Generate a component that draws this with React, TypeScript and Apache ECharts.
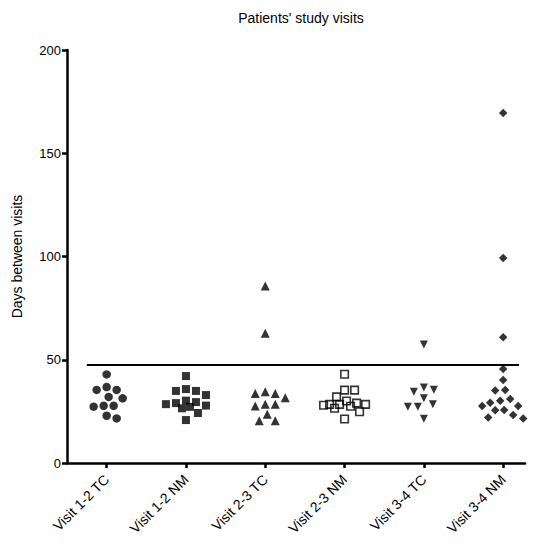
import React, { useEffect, useRef } from "react";
import * as echarts from "echarts";

const categories = [
  "Visit 1-2 TC",
  "Visit 1-2 NM",
  "Visit 2-3 TC",
  "Visit 2-3 NM",
  "Visit 3-4 TC",
  "Visit 3-4 NM",
];
const visit12TC = [42.9, 36.8, 35.4, 35.4, 32.0, 31.3, 27.7, 27.7, 27.3, 22.9, 21.6];
const visit12NM = [42.1, 35.8, 34.9, 34.9, 32.9, 30.2, 29.5, 29.0, 28.5, 27.8, 27.2, 26.5, 24.2, 20.8];
const visit23TC = [85.7, 62.8, 34.5, 33.7, 33.7, 31.6, 28.4, 28.4, 27.6, 23.6, 20.5, 20.5];
const visit23NM = [43.0, 35.3, 35.3, 32.0, 30.0, 29.0, 28.4, 28.4, 28.0, 28.4, 27.5, 26.5, 24.8, 21.3];
const visit34TC = [57.4, 36.6, 35.5, 34.5, 31.3, 28.5, 27.3, 27.3, 21.4];
const visit34NM = [169.5, 99.3, 60.9, 45.5, 40.2, 35.4, 35.1, 31.0, 30.2, 29.2, 27.6, 27.6, 25.7, 25.5, 23.2, 22.0, 21.6];
const referenceLine = 47.5;
const yTicks = [0, 50, 100, 150, 200];

const groups = [visit12TC, visit12NM, visit23TC, visit23NM, visit34TC, visit34NM];

// layout constants (pixels)
const W = 536;
const H = 543;
const GRID_LEFT = 67;
const GRID_RIGHT = 11;
const GRID_TOP = 50;
const GRID_BOTTOM = 80;
const X_MIN = -0.5;
const X_MAX = 5.275;

// beeswarm spreading, so that points of similar value sit side by side
function swarm(values: number[], catIndex: number) {
  const plotW = W - GRID_LEFT - GRID_RIGHT;
  const plotH = H - GRID_TOP - GRID_BOTTOM;
  const pxPerX = plotW / (X_MAX - X_MIN);
  const pxPerY = plotH / (yTicks[yTicks.length - 1] - yTicks[0]);
  const minDist = 10;
  const maxOff = 21;
  const placed: { x: number; y: number }[] = [];
  const sorted = [...values].sort((a, b) => b - a);
  const out: number[][] = [];
  for (const v of sorted) {
    const py = v * pxPerY;
    let chosen = 0;
    let bestOff = 0;
    let bestClear = -1;
    let found = false;
    for (let k = 0; k <= maxOff * 2; k++) {
      const off = k === 0 ? 0 : (k % 2 === 1 ? 1 : -1) * Math.ceil(k / 2);
      let clear = Infinity;
      for (const p of placed) clear = Math.min(clear, Math.hypot(p.x - off, p.y - py));
      if (clear >= minDist) {
        chosen = off;
        found = true;
        break;
      }
      if (clear > bestClear) {
        bestClear = clear;
        bestOff = off;
      }
    }
    if (!found) chosen = bestOff;
    placed.push({ x: chosen, y: py });
    out.push([catIndex + chosen / pxPerX, v]);
  }
  return out;
}

const symbolDefs = [
  { symbol: "circle", size: 8.5, rotate: 0, fill: "#000", border: 0 },
  { symbol: "rect", size: 8, rotate: 0, fill: "#000", border: 0 },
  { symbol: "triangle", size: 9, rotate: 0, fill: "#000", border: 0 },
  { symbol: "rect", size: 7.5, rotate: 0, fill: "transparent", border: 1.6 },
  { symbol: "triangle", size: 8, rotate: 180, fill: "#000", border: 0 },
  { symbol: "diamond", size: 8.5, rotate: 0, fill: "#000", border: 0 },
];

export default function App() {
  const ref = useRef<HTMLDivElement>(null);
  useEffect(() => {
    document.body.style.margin = "0";
    if (!ref.current) return;
    const chart = echarts.init(ref.current, undefined, { renderer: "svg" });
    const font = "'Liberation Sans', Arial, sans-serif";
    const series: any[] = groups.map((vals, i) => ({
      type: "scatter",
      name: categories[i],
      data: swarm(vals, i),
      symbol: symbolDefs[i].symbol,
      symbolSize: symbolDefs[i].size,
      symbolRotate: symbolDefs[i].rotate,
      itemStyle: {
        color: symbolDefs[i].fill,
        borderColor: "#000",
        borderWidth: symbolDefs[i].border,
      },
      silent: true,
      z: 3,
    }));
    series.push({
      type: "line",
      data: [],
      silent: true,
      markLine: {
        silent: true,
        symbol: ["none", "none"],
        label: { show: false },
        lineStyle: { color: "#000", width: 2, type: "solid" },
        data: [
          [
            { coord: [-0.25, referenceLine] },
            { coord: [5.2, referenceLine] },
          ],
        ],
      },
    });
    chart.setOption({
      animation: false,
      backgroundColor: "#fff",
      title: {
        text: "Patients' study visits",
        left: GRID_LEFT + (W - GRID_LEFT - GRID_RIGHT) / 2,
        textAlign: "center",
        top: 6,
        textStyle: {
          fontFamily: font,
          fontSize: 14,
          fontWeight: "normal",
          color: "#000",
        },
      },
      grid: {
        left: GRID_LEFT,
        right: GRID_RIGHT,
        top: GRID_TOP,
        bottom: GRID_BOTTOM,
        containLabel: false,
      },
      xAxis: {
        type: "value",
        min: X_MIN,
        max: X_MAX,
        splitLine: { show: false },
        axisLine: { show: true, onZero: false, lineStyle: { color: "#000", width: 2.5 } },
        axisTick: {
          show: true,
          customValues: [0, 1, 2, 3, 4, 5],
          length: 5,
          lineStyle: { color: "#000", width: 2.5 },
        },
        axisLabel: {
          customValues: [0, 1, 2, 3, 4, 5],
          formatter: (v: number) => categories[Math.round(v)] ?? "",
          rotate: 45,
          margin: 14,
          fontFamily: font,
          fontSize: 14,
          color: "#000",
        },
      },
      yAxis: {
        type: "value",
        min: 0,
        max: 200,
        interval: 50,
        name: "Days between visits",
        nameLocation: "middle",
        nameGap: 43,
        nameRotate: 90,
        nameTextStyle: { fontFamily: font, fontSize: 14, color: "#000" },
        splitLine: { show: false },
        axisLine: { show: true, onZero: false, lineStyle: { color: "#000", width: 2.5 } },
        axisTick: { show: true, length: 5, lineStyle: { color: "#000", width: 2.5 } },
        axisLabel: {
          margin: 6,
          fontFamily: font,
          fontSize: 13,
          color: "#000",
        },
      },
      series,
    });
    return () => chart.dispose();
  }, []);
  return <div ref={ref} style={{ width: W, height: H }} />;
}
